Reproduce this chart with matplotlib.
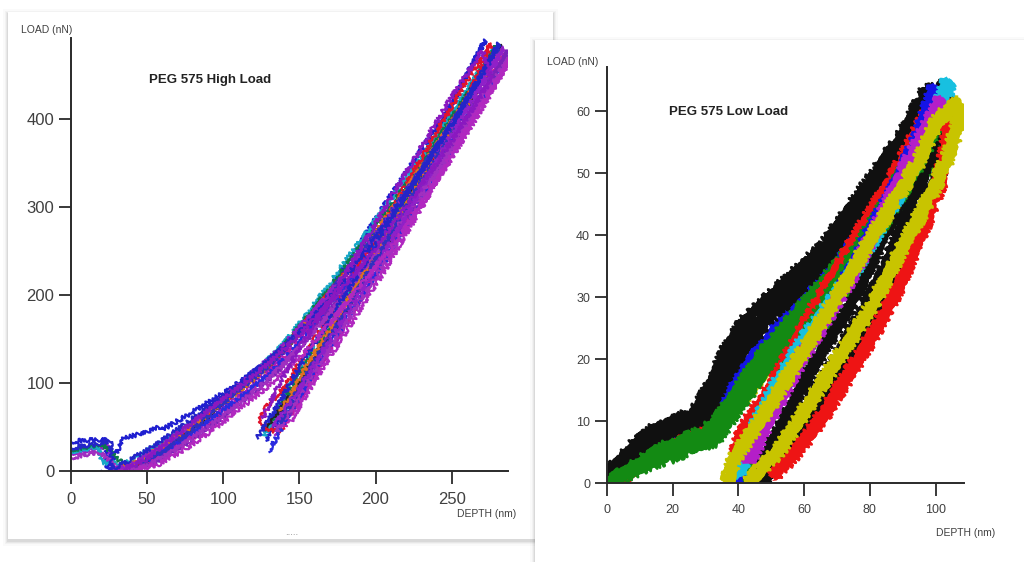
import matplotlib
matplotlib.use("Agg")
import matplotlib.pyplot as plt
import numpy as np
from matplotlib.patches import Rectangle

plt.rcParams['font.family'] = ['Liberation Sans', 'DejaVu Sans']

# ---- PEG 575 High Load: depth (nm) / load (nN), one loading+unloading cycle per list ----
high_depth = [
    [0, 10, 20, 23, 24, 35, 50, 58, 60, 75, 90, 105, 120, 135, 150, 165, 185, 205, 225, 250, 272, 266, 245, 220, 195, 170, 150, 135, 128],
    [0, 15, 25, 28, 40, 60, 80, 100, 120, 140, 160, 180, 200, 230, 260, 282, 270, 240, 210, 180, 155, 140, 135],
    [30, 45, 60, 80, 100, 120, 140, 160, 180, 200, 230, 260, 285, 275, 250, 220, 190, 165, 148, 140],
    [0, 10, 18, 20, 35, 55, 80, 100, 120, 140, 160, 180, 200, 230, 255, 278, 268, 245, 215, 185, 160, 140, 127],
    [0, 12, 20, 38, 60, 80, 100, 120, 140, 160, 180, 200, 230, 260, 280, 270, 245, 215, 190, 165, 145, 132],
    [28, 45, 65, 85, 105, 125, 145, 165, 185, 205, 235, 262, 283, 272, 248, 220, 192, 168, 148, 130, 127],
    [30, 48, 65, 85, 105, 125, 145, 165, 185, 205, 235, 262, 276, 262, 238, 210, 185, 160, 140, 128, 124, 130, 140],
    [20, 35, 50, 70, 90, 110, 130, 150, 170, 190, 210, 240, 265, 286, 280, 260, 235, 205, 180, 160, 145, 130],
    [35, 55, 75, 95, 115, 135, 155, 175, 195, 215, 245, 270, 287, 275, 250, 220, 195, 172, 152, 142],
    [28, 45, 65, 85, 105, 125, 150, 180, 210, 240, 270, 283, 268, 240, 210, 180, 155, 138],
    [0, 8, 18, 20, 32, 50, 70, 90, 110, 130, 150, 170, 190, 210, 240, 268, 288, 280, 258, 230, 200, 175, 155, 140, 135],
    [45, 60, 78, 96, 116, 136, 158, 178, 200, 225, 255, 280, 275, 255, 230, 205, 180, 160, 142, 137],
    [25, 40, 58, 76, 96, 116, 138, 160, 182, 204, 232, 260, 284, 276, 254, 228, 200, 176, 156, 140, 133],
    [0, 14, 26, 27, 38, 56, 74, 94, 114, 134, 156, 178, 200, 226, 254, 281, 274, 252, 226, 198, 172, 150, 136, 122],
    [40, 58, 76, 94, 112, 132, 152, 172, 194, 218, 246, 272, 289, 280, 258, 232, 206, 182, 162, 148, 144],
    [32, 50, 68, 88, 108, 128, 150, 172, 196, 222, 250, 276, 270, 248, 222, 196, 172, 150, 134, 126],
]
high_load = [
    [33, 35, 36, 35, 3, 38, 44, 50, 47, 62, 78, 94, 113, 132, 160, 195, 245, 300, 352, 418, 490, 470, 400, 320, 235, 160, 100, 55, 35],
    [20, 25, 28, 0, 3, 18, 42, 72, 100, 135, 178, 222, 268, 340, 422, 484, 445, 350, 255, 165, 95, 55, 40],
    [0, 5, 15, 38, 65, 95, 128, 170, 215, 262, 332, 415, 476, 440, 365, 280, 195, 125, 75, 50],
    [22, 25, 28, 10, 8, 28, 55, 82, 110, 145, 190, 238, 285, 355, 420, 480, 455, 390, 300, 215, 145, 85, 40],
    [24, 28, 31, 2, 26, 52, 80, 108, 142, 186, 232, 278, 348, 428, 485, 455, 385, 295, 220, 150, 95, 55],
    [0, 8, 30, 55, 85, 112, 148, 190, 235, 280, 350, 430, 484, 450, 380, 295, 215, 148, 95, 52, 48],
    [2, 12, 32, 58, 86, 114, 150, 192, 236, 282, 352, 430, 486, 450, 380, 295, 220, 150, 95, 72, 58, 46, 46],
    [0, 3, 12, 32, 56, 82, 110, 145, 188, 232, 278, 348, 415, 470, 450, 390, 320, 235, 170, 115, 70, 22],
    [0, 10, 30, 55, 82, 112, 150, 192, 236, 282, 355, 425, 478, 445, 375, 290, 222, 160, 100, 60],
    [0, 12, 34, 58, 84, 112, 158, 225, 295, 370, 450, 480, 440, 360, 275, 190, 120, 68],
    [15, 18, 22, 20, 0, 6, 26, 50, 76, 105, 140, 180, 225, 270, 340, 420, 470, 445, 385, 305, 220, 155, 100, 58, 45],
    [10, 22, 45, 72, 100, 130, 175, 220, 270, 330, 408, 480, 462, 400, 330, 255, 180, 125, 70, 55],
    [0, 8, 26, 50, 78, 106, 140, 182, 228, 276, 345, 420, 482, 455, 395, 315, 230, 165, 110, 68, 50],
    [26, 30, 34, 2, 12, 30, 52, 78, 104, 132, 168, 215, 265, 330, 405, 486, 462, 400, 330, 250, 178, 118, 75, 38],
    [0, 8, 26, 48, 72, 100, 132, 172, 220, 272, 345, 418, 470, 445, 385, 305, 228, 162, 108, 68, 55],
    [0, 14, 40, 66, 92, 120, 155, 195, 245, 305, 375, 445, 478, 420, 345, 270, 200, 140, 90, 60],
]
high_colors = ['#1f1fd0', '#9b1dc9', '#c01aa8', '#18a8c8', '#0b7a4a', '#222222',
               '#e0142c', '#2a2ae0', '#7a22b8', '#e07020', '#a030c0', '#3030c0',
               '#9020c8', '#2424c8', '#b028c0', '#8a18c0']
high_xticks = [0, 50, 100, 150, 200, 250]
high_yticks = [0, 100, 200, 300, 400]

# ---- PEG 575 Low Load ----
low_depth = [
    [0, 5, 10, 16, 22, 28, 34, 40, 48, 56, 64, 72, 80, 88, 96, 103, 106, 107, 104, 99, 93, 87, 81, 75, 69, 63, 57, 52, 48, 45, 43],
    [0, 4, 8, 14, 20, 26, 32, 38, 46, 54, 62, 70, 78, 86, 94, 101, 105, 101, 95, 88, 80, 72, 64, 56, 49, 44, 40, 38, 37],
    [1, 8, 16, 24, 31, 38, 46, 54, 62, 70, 78, 86, 94, 102, 104, 99, 92, 84, 76, 68, 60, 52, 46, 42, 40],
    [2, 10, 18, 26, 33, 40, 48, 56, 64, 72, 80, 88, 96, 102, 98, 90, 82, 74, 66, 58, 52, 47, 43],
    [0, 6, 12, 18, 25, 32, 40, 48, 56, 64, 72, 80, 88, 96, 103, 104, 101, 96, 89, 81, 73, 66, 59, 54, 50],
    [3, 9, 16, 23, 30, 36, 44, 52, 60, 68, 76, 84, 92, 99, 96, 88, 80, 72, 64, 57, 51, 46, 42, 40, 39],
    [0, 6, 12, 18, 24, 30, 36, 44, 52, 60, 68, 76, 84, 92, 98, 100, 95, 88, 80, 72, 64, 56, 50, 44, 40, 39],
    [0, 5, 10, 15, 20, 25, 30, 33, 38, 45, 52, 60, 68, 76, 84, 92, 99, 101, 97, 92, 86, 80, 74, 68, 62, 56, 50, 46, 44],
    [2, 8, 14, 20, 26, 31, 35, 42, 50, 58, 66, 74, 82, 90, 97, 100, 96, 90, 84, 78, 72, 66, 60, 55, 50, 46],
    [0, 5, 10, 16, 22, 28, 32, 36, 42, 50, 58, 66, 74, 82, 90, 97, 102, 104, 101, 96, 90, 84, 78, 72, 66, 60, 55, 50, 46],
    [0, 6, 12, 20, 27, 33, 38, 45, 52, 60, 68, 76, 84, 92, 100, 104, 100, 94, 86, 78, 70, 62, 55, 49, 44, 41, 40],
    [1, 8, 15, 22, 29, 34, 40, 48, 56, 64, 72, 80, 88, 96, 103, 100, 93, 85, 77, 69, 61, 54, 48, 43, 41],
]
low_load = [
    [0, 2, 3.5, 5, 6.5, 8, 9, 13, 18, 23, 28, 33, 39, 45, 51, 58, 62, 58, 53, 47, 41, 35, 29, 24, 19, 14, 9, 5, 3, 1, 0],
    [0, 1.5, 3, 4.5, 6, 7, 8, 12, 18, 23, 28, 33, 38, 44, 50, 56, 60, 59, 52, 46, 39, 32, 25, 18, 12, 8, 5, 3, 0],
    [0, 3, 6, 9, 10, 14, 20, 25, 30, 35, 40, 46, 53, 60, 65, 58, 50, 42, 35, 29, 23, 16, 10, 5, 1],
    [0, 4, 6, 8, 9, 14, 19, 24, 29, 34, 39, 45, 53, 62, 58, 50, 41, 33, 26, 19, 13, 8, 3],
    [0, 2, 5, 7, 9, 10, 16, 21, 26, 31, 36, 41, 47, 55, 62, 56, 48, 41, 32, 24, 17, 11, 6, 3, 1],
    [0, 3, 6, 8, 10, 13, 19, 24, 29, 34, 39, 45, 52, 61, 58, 50, 43, 36, 29, 22, 16, 12, 9, 6, 4],
    [0, 3, 5, 8, 10, 11, 15, 20, 25, 30, 35, 40, 46, 53, 60, 64, 56, 48, 40, 32, 25, 18, 12, 7, 3, 0],
    [0, 3, 5, 7, 8.5, 9.5, 11, 15, 19, 25, 29, 33, 38, 43, 51, 57, 62, 58, 51, 44, 36, 30, 24, 18, 13, 8, 5, 2, 0],
    [1, 4, 6, 9, 10, 11, 17, 22, 27, 31, 36, 42, 49, 55, 61, 60, 52, 46, 40, 33, 27, 22, 16, 11, 6, 2],
    [1, 4, 7, 9, 10, 12, 16, 21, 26, 30, 34, 38, 44, 50, 56, 63, 64, 57, 50, 43, 35, 29, 24, 19, 14, 9, 5, 2, 0],
    [0, 1.5, 3, 4.5, 6, 7, 11, 16, 21, 26, 31, 36, 41, 47, 53, 59, 60, 54, 46, 39, 32, 25, 18, 12, 6, 2, 0],
    [0, 2.5, 5, 6.5, 8, 10, 15, 21, 26, 31, 36, 42, 48, 54, 60, 57, 50, 43, 36, 29, 22, 16, 10, 5, 1],
]
low_colors = ['#c8c400', '#c8c400', '#18c0e0', '#b41ec8', '#ee1414', '#ee1414',
              '#1414e6', '#101010', '#101010', '#101010', '#138a13', '#138a13']
# stacking of the loading and unloading halves of each trace
low_load_z = [1, 1, 1.5, 1.5, 1.5, 1.5, 2, 3, 3, 3, 4, 4]
low_unload_z = [7, 7, 6.5, 6.5, 5.8, 4.5, 6, 5, 5, 5.5, 5, 5]
low_xticks = [0, 20, 40, 60, 80, 100]
low_yticks = [0, 10, 20, 30, 40, 50, 60]

W, H = 1024, 562
fig = plt.figure(figsize=(W / 100, H / 100), dpi=100)
fig.patch.set_facecolor('white')


def fbox(x0, y0, x1, y1):
    return [x0 / W, 1 - y1 / H, (x1 - x0) / W, (y1 - y0) / H]


def card(x0, y0, x1, y1, z):
    # soft drop shadow then white card
    for k, a in [(5, 0.02), (3, 0.03), (2, 0.045), (1, 0.06)]:
        b = fbox(x0 - k, y0 - k + 2, x1 + k, y1 + k + 2)
        fig.add_artist(Rectangle((b[0], b[1]), b[2], b[3], transform=fig.transFigure,
                                 facecolor='black', alpha=a, edgecolor='none', zorder=z))
    b = fbox(x0, y0, x1, y1)
    fig.add_artist(Rectangle((b[0], b[1]), b[2], b[3], transform=fig.transFigure,
                             facecolor='white', edgecolor='none', zorder=z + 0.5))


card(8, 12, 553, 539, -10)
card(535, 40, 1040, 580, -8)


def style_axes(ax, xticks, yticks, size, xpad):
    ax.set_facecolor('none')
    for s in ['top', 'right']:
        ax.spines[s].set_visible(False)
    for s in ['left', 'bottom']:
        ax.spines[s].set_color('#2a2a2a')
        ax.spines[s].set_linewidth(1.4)
        ax.spines[s].set_zorder(20)
    ax.set_xticks(xticks)
    ax.set_yticks(yticks)
    ax.tick_params(direction='out', length=9, width=1.3, colors='#2a2a2a',
                   labelcolor='#404040', labelsize=size)
    ax.tick_params(axis='y', pad=3)
    ax.tick_params(axis='x', pad=xpad)


# left panel
ax1 = fig.add_axes(fbox(71, 37.5, 508, 471))
for d, l, c in zip(high_depth, high_load, high_colors):
    ln, = ax1.plot(d, l, color=c, lw=1.6)
    ln.set_sketch_params(scale=2.2, length=2, randomness=8)
ax1.set_xlim(0, 287)
ax1.set_ylim(0, 493)
style_axes(ax1, high_xticks, high_yticks, 12, 6)


def blocky(ax, d, l, c, z):
    base, = ax.plot(d, l, color=c, lw=6, solid_capstyle='butt', zorder=z)
    base.set_sketch_params(scale=3, length=4, randomness=6)
    spike, = ax.plot(d, l, color=c, lw=2, solid_capstyle='butt', zorder=z)
    spike.set_sketch_params(scale=8, length=1, randomness=12)


# right panel: wide, blocky, spiky traces, split at the peak load
ax2 = fig.add_axes(fbox(606.7, 67, 964, 483))
for d, l, c, zl, zu in zip(low_depth, low_load, low_colors, low_load_z, low_unload_z):
    k = int(np.argmax(l))
    blocky(ax2, d[:k + 1], l[:k + 1], c, zl)
    blocky(ax2, d[k:], l[k:], c, zu)
ax2.set_xlim(0, 108.6)
ax2.set_ylim(0, 67.1)
style_axes(ax2, low_xticks, low_yticks, 9, 6)

# labels
fig.text(21 / W, 1 - 30 / H, 'LOAD (nN)', fontsize=7.5, color='#404040', va='center')
fig.text(210 / W, 1 - 80 / H, 'PEG 575 High Load', fontsize=9.5, fontweight='bold',
         color='#222222', ha='center', va='center')
fig.text(516 / W, 1 - 514 / H, 'DEPTH (nm)', fontsize=7.5, color='#404040', ha='right', va='center')
fig.text(292 / W, 1 - 532 / H, '.....', fontsize=7, color='#888888', ha='center', va='center')

fig.text(547 / W, 1 - 62 / H, 'LOAD (nN)', fontsize=7.5, color='#404040', va='center')
fig.text(729 / W, 1 - 112 / H, 'PEG 575 Low Load', fontsize=9.5, fontweight='bold',
         color='#222222', ha='center', va='center')
fig.text(995 / W, 1 - 533 / H, 'DEPTH (nm)', fontsize=7.5, color='#404040', ha='right', va='center')

fig.savefig('out.png', dpi=100, facecolor='white')
